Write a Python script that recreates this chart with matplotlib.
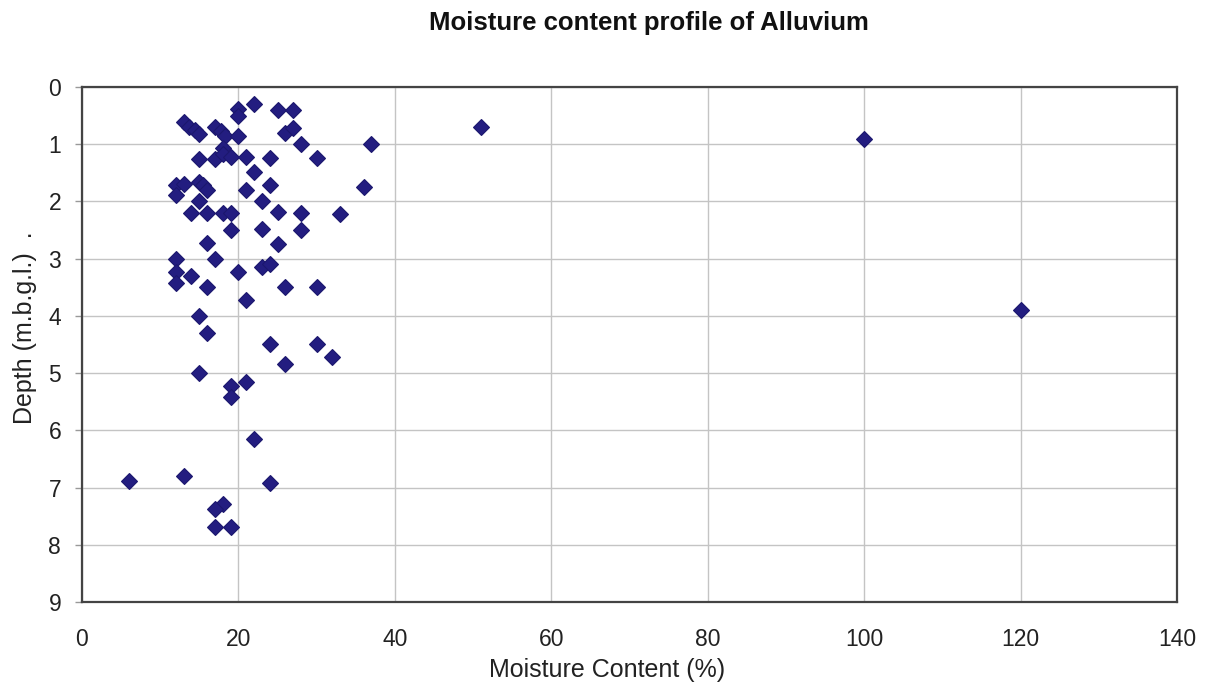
import matplotlib
matplotlib.use('Agg')
import matplotlib.pyplot as plt

plt.rcParams['font.family'] = ['Liberation Sans', 'DejaVu Sans']

# moisture content (%) and depth below ground level (m) of alluvium samples
moisture = [22, 20, 20, 25, 27,
            13, 13.7, 14.5, 15, 17, 17.8, 18.3,
            20, 26, 27, 28, 37, 51, 100,
            15, 17, 18, 18, 19, 21, 24, 30,
            22, 12, 13, 15, 15.5, 16, 12, 21, 24, 36,
            15, 23, 14, 16, 18, 19, 25, 28, 33,
            19, 23, 28, 16, 25,
            12, 17, 12, 12, 14, 16, 20, 23, 24, 26, 30, 21,
            120,
            15, 16, 24, 30, 32, 26, 15, 21, 19, 19,
            22, 6, 13, 24, 18, 17, 17, 19]
depth = [0.30, 0.39, 0.50, 0.40, 0.40,
         0.61, 0.69, 0.75, 0.82, 0.69, 0.77, 0.85,
         0.86, 0.81, 0.72, 1.0, 1.0, 0.7, 0.9,
         1.25, 1.25, 1.07, 1.17, 1.22, 1.22, 1.24, 1.24,
         1.49, 1.71, 1.70, 1.66, 1.72, 1.80, 1.89, 1.80, 1.71, 1.74,
         2.0, 2.0, 2.21, 2.21, 2.21, 2.21, 2.18, 2.21, 2.22,
         2.5, 2.48, 2.5, 2.72, 2.74,
         3.0, 3.0, 3.24, 3.43, 3.3, 3.49, 3.24, 3.14, 3.09, 3.49, 3.49, 3.72,
         3.9,
         4.01, 4.29, 4.49, 4.49, 4.71, 4.84, 5.0, 5.15, 5.23, 5.42,
         6.15, 6.88, 6.8, 6.92, 7.29, 7.38, 7.69, 7.69]

x_ticks = list(range(0, 141, 20))
y_ticks = list(range(0, 10))

fig = plt.figure(figsize=(12.09, 6.88), dpi=100)
ax = fig.add_axes([0.0678, 0.125, 0.9057, 0.7485])

ax.plot(moisture, depth, 'D', color='#231d80', markersize=8,
        markeredgecolor='#1c176e', markeredgewidth=0.8, zorder=3)

ax.set_xlim(0, 140)
ax.set_ylim(9, 0)
ax.set_xticks(x_ticks)
ax.set_yticks(y_ticks)
ax.grid(True, color='#c4c4c4', linewidth=1.0)
ax.set_axisbelow(True)

for s in ax.spines.values():
    s.set_color('#444444')
    s.set_linewidth(1.6)

ax.tick_params(axis='x', length=0, pad=19, labelsize=16.5, labelcolor='#222222')
ax.tick_params(axis='y', length=5, width=1, color='#999999', pad=10,
               labelsize=16.5, labelcolor='#222222')

fig.text(0.5364, 0.966, 'Moisture content profile of Alluvium',
         ha='center', va='center', fontsize=18.5, fontweight='bold',
         color='#111111')
fig.text(0.502, 0.026, 'Moisture Content (%)', ha='center', va='center',
         fontsize=18, color='#222222')
fig.text(0.021, 0.523, 'Depth (m.b.g.l.)  .', ha='center', va='center',
         rotation=90, fontsize=18, color='#222222')

fig.savefig('out.png', dpi=100)
